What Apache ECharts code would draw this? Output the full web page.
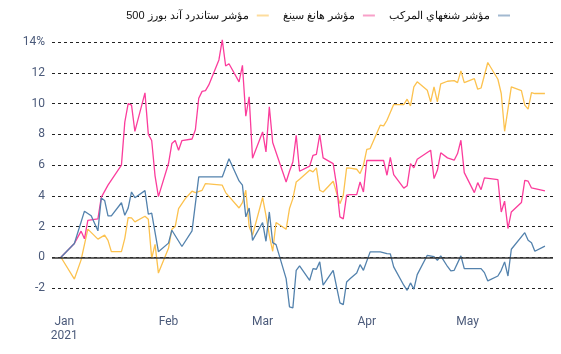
<!DOCTYPE html>
<html>
<head>
<meta charset="utf-8">
<script src="https://cdn.jsdelivr.net/npm/echarts@6/dist/echarts.min.js"></script>
<style>html,body{margin:0;padding:0;background:#fff;}#chart{width:561px;height:354px;}</style>
</head>
<body>
<div id="chart"></div>
<script>
// Series names (legend order left to right)
const seriesNames = ['مؤشر ستاندرد آند بورز 500', 'مؤشر هانغ سينغ', 'مؤشر شنغهاي المركب'];

// Day offsets from 1 Jan 2021 (0 = 1 Jan), and % change values
const spxDays = [-1,3,5,7,10,12,13,14,17,18,19,20,21,24,25,26,27,28,31,32,33,34,36,38,39,41,42,47,48,52,53,54,55,56,59,60,61,62,63,66,67,68,69,70,73,74,75,76,77,80,81,82,83,84,85,87,88,89,90,91,94,95,96,98,101,102,103,104,105,108,109,110,111,112,114,116,117,118,119,122,123,124,126,129,130,131,133,136,137,138,139,140,143];
const spxVals = [0,-1.42,-0.17,1.83,1.18,1.44,1.1,0.37,0.37,1.23,2.58,2.56,2.3,2.67,2.47,-0.07,0.84,-1.03,0.58,1.83,2.0,3.17,3.82,4.3,4.21,4.36,4.8,4.69,4.21,3.21,3.56,4.36,2.0,1.43,3.89,2.73,1.43,0.39,2.26,1.82,3.17,3.82,4.9,5.08,5.67,5.56,5.82,4.36,4.25,4.95,4.2,3.49,4.04,5.82,5.8,5.73,5.45,5.99,7.03,7.08,8.6,8.55,8.92,9.94,9.94,10.29,9.85,11.09,11.42,10.87,10.12,11.09,10.12,11.29,11.46,11.5,11.37,12.13,11.37,11.63,10.94,11.02,12.68,11.59,10.66,8.2,11.09,10.85,9.9,9.64,10.72,10.66,10.66];

const hsiDays = [-1,3,5,6,7,10,11,13,17,18,19,20,21,24,25,26,27,28,31,32,33,34,35,38,39,40,41,42,43,46,47,48,49,52,53,54,55,56,59,60,61,62,66,67,68,69,70,73,74,75,76,77,80,81,82,83,84,85,87,88,89,90,95,96,97,98,101,102,103,104,105,109,110,111,112,114,116,117,118,119,122,123,124,125,129,130,131,132,133,136,137,138,139,143];
const hsiVals = [0,0.9,1.7,1.2,2.4,2.5,3.9,4.7,6.0,8.8,10.0,9.9,8.2,10.7,8.0,7.6,5.3,3.95,6.1,7.4,7.6,6.97,7.6,7.7,8.3,10.35,10.8,10.85,11.22,12.85,14.15,12.45,12.6,11.42,12.5,9.18,10.45,6.45,8.16,6.86,9.79,7.47,4.9,5.6,6.2,7.94,5.6,5.93,6.64,6.7,7.99,6.47,6.1,4.69,2.63,2.5,4.04,4.08,4.08,4.9,4.25,6.3,6.3,5.34,6.5,5.38,4.5,4.65,6.1,5.82,6.38,6.97,5.12,5.66,6.8,6.47,6.32,6.75,7.62,5.51,4.21,4.86,4.4,5.17,5.06,2.95,3.65,1.87,2.95,3.56,5.01,4.95,4.51,4.32];

const shDays = [-1,3,6,8,10,11,12,13,14,17,18,19,20,21,24,25,26,28,31,32,35,38,40,41,47,49,52,53,54,55,56,59,60,61,62,63,66,67,68,69,70,73,74,75,76,77,80,82,83,84,85,87,88,89,91,94,96,97,98,101,102,103,104,105,108,110,111,112,114,115,116,118,119,124,125,126,129,130,131,132,133,137,138,139,140,143];
const shVals = [0,0.9,3.0,2.7,1.72,3.85,3.7,2.7,2.7,3.55,2.73,3.2,4.25,3.88,4.34,2.8,2.88,0.36,0.92,1.76,0.7,1.72,5.23,5.23,5.23,6.42,4.97,4.69,2.63,3.21,1.1,2.26,1.04,2.95,0.95,0.82,-1.39,-3.23,-3.3,-0.85,-0.56,-1.5,-0.74,-0.78,-0.3,-1.82,-0.85,-2.97,-3.08,-1.61,-1.4,-1.02,-0.48,-0.85,0.35,0.35,0.24,0.22,-0.63,-1.82,-2.15,-1.67,-2.08,-1.13,0.13,0.04,-0.2,0.09,-0.6,-0.89,-0.85,0.09,-0.74,-0.74,-1.0,-1.54,-1.22,-0.85,-0.3,-1.22,0.52,1.6,1.11,0.95,0.39,0.72];

// X tick labels (month starts, as day offsets)
const tickDays = [0, 31, 59, 90, 120];
const tickLabels = ['Jan\n2021', 'Feb', 'Mar', 'Apr', 'May'];

const pairs = (days, vals) => days.map((d, i) => [d, vals[i]]);

const colors = ['#fcc24f', '#fb3d9c', '#5382ad'];
const legendColors = ['#fddc9c', '#f8a0c9', '#a2b9d0'];
const labelColor = '#4b5a7a';

const chart = echarts.init(document.getElementById('chart'), null, {renderer: 'canvas'});

const mkSeries = (i, data, extra) => Object.assign({
  name: seriesNames[i], type: 'line', data: data, showSymbol: false, symbol: 'none',
  lineStyle: {color: colors[i], width: 1.3}, itemStyle: {color: colors[i]},
  emphasis: {disabled: true}, animation: false
}, extra || {});

chart.setOption({
  animation: false,
  grid: {left: 52, right: 8, top: 11.5, bottom: 35.3},
  legend: {
    right: 46, top: 5, align: 'right', itemGap: 14, itemWidth: 12, itemHeight: 2, icon: 'rect',
    textStyle: {color: '#111', fontSize: 11, fontFamily: 'sans-serif', padding: [0, 3, 0, 0]},
    data: seriesNames.map((n, i) => ({name: n, itemStyle: {color: legendColors[i]}}))
  },
  xAxis: {
    type: 'value', min: -3.66, max: 145.4,
    axisLine: {show: false}, axisTick: {show: false}, splitLine: {show: false},
    axisLabel: {
      customValues: tickDays, margin: -4, color: labelColor, fontSize: 12, fontFamily: 'Roboto, sans-serif',
      lineHeight: 14, hideOverlap: false,
      formatter: function (v) {
        const idx = tickDays.indexOf(v);
        return idx >= 0 ? tickLabels[idx] : '';
      }
    }
  },
  yAxis: {
    type: 'value', min: -4, max: 16, interval: 2,
    axisLine: {show: false}, axisTick: {show: false},
    splitLine: {show: true, showMinLine: false, showMaxLine: false, lineStyle: {color: '#222', type: [3, 3], width: 1}},
    axisLabel: {
      margin: 7, color: labelColor, fontSize: 12, fontFamily: 'Roboto, sans-serif',
      showMinLabel: false, showMaxLabel: false,
      formatter: v => (v === 14 ? '14%' : String(v))
    }
  },
  series: [
    mkSeries(0, pairs(spxDays, spxVals), {
      markLine: {silent: true, symbol: 'none', label: {show: false}, animation: false,
        lineStyle: {color: '#333', type: 'solid', width: 1.5}, data: [{yAxis: 0}]}
    }),
    mkSeries(1, pairs(hsiDays, hsiVals)),
    mkSeries(2, pairs(shDays, shVals))
  ]
});
</script>
</body>
</html>
